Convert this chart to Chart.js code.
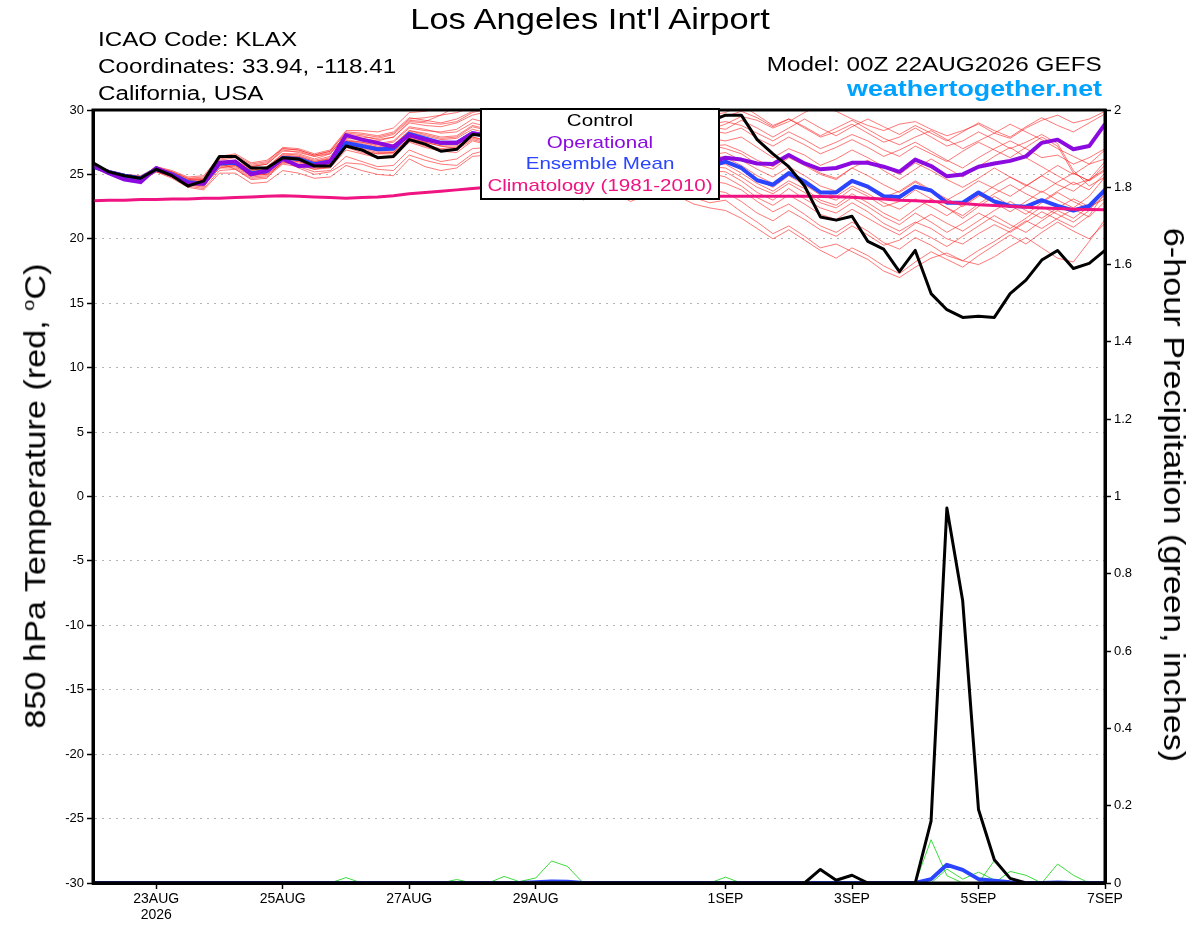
<!DOCTYPE html>
<html>
<head>
<meta charset="utf-8">
<title>Los Angeles Int'l Airport - GEFS 850 hPa Temperature</title>
<script src="https://cdn.jsdelivr.net/npm/chart.js@4.4.1/dist/chart.umd.min.js"></script>
<style>
  body { margin: 0; background: #fff; font-family: "Liberation Sans", Arial, sans-serif; color: #000; }
  #wrap { position: relative; width: 1200px; height: 927px; overflow: hidden; }
  #chart { position: absolute; left: 0; top: 0; }
  .txt { position: absolute; white-space: nowrap; }
  #title { left: 590px; top: 2.2px; font-size: 29px; line-height: 34px; transform: translateX(-50%) scaleX(1.19); }
  #info { left: 98px; top: 25.6px; font-size: 20px; line-height: 27px; transform: scaleX(1.21); transform-origin: left top; }
  #model { right: 98px; top: 50.6px; font-size: 20px; line-height: 27px; transform: scaleX(1.215); transform-origin: right top; }
  #site { right: 98px; top: 75.4px; font-size: 22px; line-height: 27px; font-weight: bold; color: #00a2ff;
          transform: scaleX(1.22); transform-origin: right top; }
  #legend { position: absolute; left: 480px; top: 108px; width: 240px; height: 92px; box-sizing: border-box;
            border: 2px solid #000; background: #fff; text-align: center; font-size: 17px; line-height: 21.6px;
            padding-top: 0; z-index: 2; }
  #legend div { transform: scaleX(1.21); white-space: nowrap; }
  .axt { position: absolute; white-space: nowrap; font-size: 29px; line-height: 34px; }
  #ytitle { left: 31.8px; top: 496px; transform: translate(-50%, -50%) rotate(-90deg) scaleX(1.18); }
  #y2title { left: 1174px; top: 495px; transform: translate(-50%, -50%) rotate(90deg) scaleX(1.18); }
</style>
</head>
<body>
<div id="wrap">
  <canvas id="chart" width="1200" height="927"></canvas>
  <div class="txt" id="title">Los Angeles Int'l Airport</div>
  <div class="txt" id="info">ICAO Code: KLAX<br>Coordinates: 33.94, -118.41<br>California, USA</div>
  <div class="txt" id="model">Model: 00Z 22AUG2026 GEFS</div>
  <div class="txt" id="site">weathertogether.net</div>
  <div id="legend">
    <div style="color:#000">Control</div>
    <div style="color:#8a0ae0">Operational</div>
    <div style="color:#2a44ff">Ensemble Mean</div>
    <div style="color:#f01482">Climatology (1981-2010)</div>
  </div>
  <div class="axt" id="ytitle">850 hPa Temperature (red, <sup style="font-size:17px">o</sup>C)</div>
  <div class="axt" id="y2title">6-hour Precipitation (green, inches)</div>
</div>
<script>
// forecast hours from 00Z 22AUG2026, every 6 h
const hours = [0,6,12,18,24,30,36,42,48,54,60,66,72,78,84,90,96,102,108,114,
  120,126,132,138,144,150,156,162,168,174,180,186,192,198,204,210,216,222,228,234,
  240,246,252,258,264,270,276,282,288,294,300,306,312,318,324,330,336,342,348,354,
  360,366,372,378,384];

const tickHours = [24, 72, 120, 168, 240, 288, 336, 384];
const tickLabels = [['23AUG', '2026'], '25AUG', '27AUG', '29AUG', '1SEP', '3SEP', '5SEP', '7SEP'];

// 850 hPa temperature, deg C
const controlTemp = [25.9,25.2,24.9,24.7,25.4,24.9,24.1,24.5,26.4,26.4,
  25.5,25.5,26.3,26.2,25.65,25.65,27.2,26.9,26.3,26.4,
  27.7,27.35,26.8,26.95,28.1,28.0,27.6,28.1,28.5,28.2,
  27.9,28.3,28.7,28.4,28.1,28.6,29.0,28.7,28.9,29.1,
  29.6,29.6,27.7,26.6,25.6,24.1,21.7,21.45,21.75,19.8,
  19.2,17.45,19.1,15.75,14.5,13.9,14.0,13.9,15.75,16.8,
  18.35,19.1,17.7,18.1,19.1];

const operTemp = [25.7,25.1,24.6,24.4,25.5,24.95,24.3,24.3,25.9,26.0,
  25.0,25.3,26.2,25.65,25.7,26.0,28.05,27.7,27.45,27.15,
  28.05,27.7,27.45,27.45,28.2,28.0,27.7,27.9,28.2,27.8,
  27.4,27.6,27.8,27.4,27.0,27.2,27.0,26.7,26.6,25.9,
  26.3,26.15,25.85,25.8,26.5,25.85,25.4,25.5,25.9,25.9,
  25.6,25.2,26.15,25.65,24.85,25.0,25.6,25.85,26.05,26.4,
  27.45,27.7,26.95,27.2,28.9];

const meanTemp = [25.6,25.2,24.9,24.7,25.4,25.0,24.4,24.3,25.85,25.9,
  25.1,25.25,26.3,26.2,25.8,26.0,27.45,27.2,26.95,27.0,
  28.15,27.8,27.45,27.45,28.2,28.0,27.6,27.7,28.2,27.8,
  27.4,27.5,27.6,27.3,26.9,27.0,26.8,26.4,26.3,25.6,
  26.0,25.5,24.55,24.2,25.1,24.45,23.6,23.6,24.5,24.05,
  23.3,23.25,24.05,23.75,22.8,22.8,23.6,22.9,22.55,22.5,
  23.0,22.55,22.2,22.55,23.8];

const climTemp = [22.95,23.0,23.0,23.05,23.05,23.1,23.1,23.15,23.15,23.2,
  23.25,23.3,23.35,23.3,23.25,23.2,23.15,23.2,23.25,23.35,
  23.5,23.6,23.7,23.8,23.9,24.0,24.0,23.95,23.9,23.8,
  23.7,23.6,23.5,23.45,23.4,23.35,23.3,23.3,23.3,23.3,
  23.3,23.3,23.3,23.3,23.3,23.3,23.28,23.26,23.22,23.15,
  23.1,23.0,22.95,22.9,22.85,22.75,22.65,22.58,22.52,22.46,
  22.4,22.35,22.3,22.27,22.25];

// ensemble members (red)
const m01 = [25.7,25.3,25.0,24.8,25.6,25.3,24.8,24.9,26.4,26.6,25.9,26.1,27.0,26.9,26.5,26.8,28.3,28.2,28.0,28.3,29.4,29.2,29.0,29.3,29.9,
  30.3,30.8,30.2,29.7,30.4,30.9,30.3,29.8,29.4,29.9,30.2,29.6,29.1,28.7,28.5,
  28.9,29.5,29.2,28.6,29.1,29.8,30.4,29.9,29.3,28.8,28.4,28.9,29.1,28.5,28.0,28.4,28.9,28.2,27.8,28.6,29.2,29.6,29.0,29.3,29.9];
const m02 = [25.5,25.1,24.8,24.5,25.2,24.8,24.1,23.9,25.3,25.4,24.6,24.7,26.1,25.5,25.0,25.2,25.9,25.8,25.4,25.3,26.5,26.1,25.8,25.7,26.6,
  26.9,26.4,26.8,27.1,26.5,26.0,25.3,25.7,25.9,25.2,24.6,24.1,23.7,23.2,22.8,
  23.0,22.1,21.3,20.4,21.0,20.2,19.3,19.6,19.0,18.4,17.5,17.0,17.8,18.5,18.9,18.3,18.0,18.6,19.4,20.1,19.3,18.5,18.2,19.8,21.5];
const m03 = [25.6,25.3,25.0,24.9,25.5,25.2,24.6,24.6,26.2,26.4,25.6,25.8,26.9,26.7,26.4,26.7,28.0,27.9,27.8,28.1,29.2,29.1,29.6,30.3,30.6,
  30.9,30.4,29.9,30.5,30.1,29.5,29.9,30.3,29.8,29.2,29.6,30.1,29.7,29.4,29.6,
  29.8,30.4,29.6,28.8,29.3,28.7,28.0,28.6,29.2,28.5,27.8,27.3,27.9,28.4,27.7,27.0,27.6,28.2,28.9,28.3,27.7,27.0,26.4,25.8,26.2];
const m04 = [25.5,25.0,24.7,24.6,25.3,24.9,24.2,24.2,25.6,25.6,24.9,25.0,25.9,25.8,25.4,25.5,26.9,26.6,26.3,26.3,27.5,27.1,26.8,26.7,27.6,
  27.3,26.8,27.2,27.6,27.0,26.4,25.9,26.3,26.7,26.1,25.5,25.8,26.1,25.6,25.3,
  25.2,24.5,23.6,23.0,23.9,23.1,22.4,22.0,22.8,22.1,21.2,20.6,21.3,20.8,20.0,19.6,20.4,21.1,20.5,21.3,22.1,21.5,20.9,21.8,23.6];
const m05 = [25.7,25.2,25.0,24.8,25.5,25.1,24.5,24.5,26.0,26.1,25.3,25.6,26.6,26.5,26.1,26.4,27.8,27.7,27.4,27.6,28.7,28.5,28.2,28.3,29.0,
  28.7,28.3,28.8,29.2,28.6,28.0,28.4,28.7,28.1,27.5,27.9,28.2,27.6,27.1,27.3,
  27.0,26.6,25.8,25.4,26.3,25.7,25.0,24.6,25.5,26.1,25.3,24.6,25.4,26.2,25.5,24.8,25.6,26.4,27.1,26.3,25.6,24.9,24.2,24.6,25.4];
const m06 = [25.6,25.2,24.8,24.6,25.3,24.9,24.3,24.1,25.5,25.7,25.0,25.0,26.0,25.7,25.4,25.6,27.6,26.8,26.6,26.7,27.8,27.5,27.2,27.0,27.8,
  27.5,27.0,27.4,27.7,27.1,26.5,26.0,26.4,26.8,26.2,25.6,25.1,25.5,24.9,24.5,
  24.3,23.8,22.9,22.1,22.7,21.9,21.0,20.5,21.3,20.6,19.7,19.2,20.1,19.5,18.7,18.3,19.1,19.8,20.6,21.4,20.8,21.6,22.3,21.7,22.9];
const m07 = [25.6,25.3,24.9,24.7,25.4,25.1,24.5,24.4,25.9,26.0,25.2,25.4,26.4,26.4,26.0,26.3,27.7,27.5,27.3,27.5,28.6,28.4,28.3,28.5,29.3,
  29.0,28.6,29.1,29.4,28.8,28.2,28.6,28.9,28.3,27.8,28.2,28.5,28.0,27.5,27.8,
  27.6,27.9,27.1,26.3,27.0,26.5,25.7,26.2,26.9,26.3,25.6,25.0,25.9,25.3,24.6,24.0,24.7,25.5,24.8,24.1,24.9,25.7,25.0,25.8,26.9];
const m08 = [25.5,25.1,24.8,24.7,25.3,24.9,24.3,24.2,25.7,25.8,25.0,25.1,26.1,26.0,25.6,25.7,27.2,26.9,26.6,26.6,27.7,27.3,27.0,27.1,27.9,
  27.6,27.1,27.5,27.8,27.2,26.6,26.2,26.6,27.0,26.4,25.9,26.3,26.6,26.1,25.7,
  25.8,25.1,24.3,23.7,24.5,23.9,23.0,22.6,23.5,22.8,22.0,21.4,22.3,23.1,22.4,21.6,22.5,23.3,22.6,21.9,22.8,23.6,22.9,22.3,23.4];
const m09 = [25.7,25.3,25.0,24.8,25.5,25.1,24.6,24.7,26.3,26.5,25.8,26.0,27.1,27.0,26.6,26.9,28.4,28.4,28.3,28.6,29.8,29.9,30.2,30.4,30.8,
  31.1,30.7,31.2,30.8,30.3,30.7,31.0,30.5,30.0,30.4,30.7,30.2,29.8,30.1,29.7,
  29.5,29.9,29.4,28.7,29.3,28.6,27.9,28.3,28.9,28.2,27.5,27.9,28.6,27.9,27.2,27.6,28.3,27.7,27.0,27.5,28.1,27.4,25.3,24.1,24.8];
const m10 = [25.6,25.1,24.8,24.6,25.2,24.7,24.0,23.8,25.1,25.1,24.3,24.4,25.3,25.1,24.7,24.8,25.7,25.3,25.0,24.9,26.2,25.6,25.3,25.5,26.4,
  26.5,26.0,26.3,26.6,25.9,25.2,23.0,24.0,23.6,22.9,23.4,23.8,23.3,22.7,22.4,
  22.2,21.6,20.8,20.0,20.7,19.9,19.1,18.5,19.3,18.7,17.9,17.3,18.2,19.0,18.4,17.8,18.7,19.5,20.3,19.6,20.5,21.3,20.6,20.0,21.2];
const m11 = [25.6,25.2,24.9,24.7,25.4,25.0,24.4,24.3,25.8,25.9,25.1,25.3,26.3,26.3,25.9,26.1,27.5,27.3,27.1,27.2,28.3,28.0,27.7,27.8,28.5,
  28.2,27.8,28.2,28.6,28.0,27.4,27.8,28.1,27.5,26.9,27.3,27.6,27.1,26.6,26.5,
  26.3,25.7,24.9,24.3,25.1,24.4,23.7,23.3,24.1,23.5,22.8,22.3,23.1,22.5,21.8,22.6,23.4,22.8,22.1,22.9,23.7,23.0,22.4,23.3,24.8];
const m12 = [25.5,25.2,24.9,24.8,25.4,25.0,24.5,24.4,25.9,26.1,25.4,25.5,26.6,26.6,26.2,26.6,28.0,27.8,27.6,27.9,29.0,28.8,28.7,29.0,29.6,
  29.9,29.4,29.8,30.2,29.6,29.0,29.4,29.7,29.1,28.6,29.0,29.3,28.8,28.3,28.4,
  28.2,28.6,27.8,27.2,27.9,27.3,26.6,27.1,27.7,27.1,26.4,26.9,27.5,26.8,26.1,25.5,26.3,27.0,27.6,27.0,26.3,26.5,25.8,26.3,27.0];
const m13 = [25.6,25.2,24.8,24.6,25.3,24.8,24.2,24.0,25.9,25.4,24.7,24.8,25.8,25.6,25.2,25.3,26.4,26.0,25.6,25.7,26.9,26.4,26.0,26.2,27.0,
  27.1,26.6,27.0,27.3,26.7,26.1,25.6,26.0,26.3,25.7,25.1,24.6,24.9,24.3,23.8,
  23.6,22.9,22.0,21.4,22.2,21.5,20.7,20.2,21.0,20.3,19.5,19.9,20.7,20.1,19.4,20.2,21.0,21.8,21.1,20.5,21.4,22.2,21.6,22.5,24.0];
const m14 = [25.7,25.3,24.9,24.8,25.5,25.2,24.7,24.6,26.1,26.3,25.6,25.8,26.8,26.8,26.4,26.6,28.1,28.0,27.7,27.9,29.1,29.0,28.9,29.1,29.8,
  30.1,29.6,30.0,30.4,29.8,29.2,29.6,29.9,29.3,28.8,29.2,29.5,29.0,28.6,28.9,
  29.1,28.8,28.2,27.6,28.3,27.7,27.0,27.5,28.1,27.6,26.9,26.4,27.2,26.6,26.0,26.8,27.5,26.9,26.3,27.1,27.9,27.2,25.1,24.5,25.3];
const m15 = [25.5,25.1,24.8,24.6,25.3,25.0,24.4,24.3,25.8,25.8,25.0,25.2,26.2,26.1,25.7,25.9,27.3,27.1,26.8,26.8,27.9,27.6,27.3,27.3,28.1,
  27.8,27.4,27.8,28.1,27.5,26.9,27.3,27.6,27.0,26.5,26.9,27.2,26.7,26.3,26.5,
  26.7,26.1,25.4,24.8,25.6,24.9,24.1,23.7,24.6,23.9,23.2,23.7,24.5,23.8,23.1,22.5,23.3,24.1,24.8,24.2,23.6,24.4,25.1,24.5,25.7];
const m16 = [25.6,25.2,24.9,24.7,25.5,25.1,24.5,24.5,26.0,26.0,25.3,25.5,26.5,26.4,26.0,26.2,27.6,27.5,27.2,27.3,28.4,28.2,27.9,28.0,28.8,
  28.5,28.1,28.5,28.9,28.3,27.7,28.1,28.4,27.8,27.3,27.7,28.0,27.5,27.0,27.2,
  27.3,26.8,26.1,25.6,26.4,25.8,25.1,24.7,25.5,24.9,24.2,23.6,24.4,23.7,23.0,23.7,24.5,23.9,23.3,24.1,24.9,24.2,23.7,24.6,26.0];
const m17 = [25.6,25.1,24.8,24.6,25.2,24.9,24.2,24.1,25.5,25.5,24.8,24.9,25.9,25.9,25.5,25.6,27.1,26.7,26.4,26.4,27.6,27.2,26.9,26.9,27.7,
  27.4,26.9,27.3,27.6,27.0,26.4,25.9,26.3,26.6,26.0,25.5,25.9,26.2,25.6,25.1,
  24.8,24.1,23.2,22.6,23.4,22.7,21.9,21.5,22.3,21.6,20.9,20.3,21.2,21.9,21.2,20.6,21.4,22.2,22.9,22.2,21.6,22.4,23.1,22.5,23.1];
const m18 = [25.7,25.3,25.0,24.8,25.6,25.2,24.7,24.8,26.3,26.4,25.7,25.9,27.0,26.9,26.5,26.8,28.2,28.1,27.9,28.2,29.3,29.4,29.6,29.8,30.2,
  30.5,30.0,30.4,30.8,30.2,29.6,30.0,30.3,29.7,29.2,29.6,29.9,29.4,28.9,28.7,
  28.5,29.2,28.6,27.9,28.6,29.3,28.6,28.0,28.7,29.3,28.7,28.1,28.8,28.2,27.6,28.3,29.0,28.4,27.9,28.7,29.4,28.8,28.3,29.0,29.7];
const m19 = [25.5,25.2,24.8,24.7,25.3,24.9,24.3,24.2,25.7,25.7,24.9,25.1,26.1,26.0,25.6,25.8,27.2,27.0,26.7,26.7,27.8,27.5,27.2,27.2,27.9,
  27.6,27.2,27.6,27.9,27.3,26.7,26.2,26.6,27.0,26.4,25.8,26.2,26.5,26.0,25.6,
  25.5,24.8,24.0,23.5,24.3,23.6,22.8,22.4,23.2,22.5,21.7,21.1,22.0,21.3,20.5,21.2,22.0,21.4,20.8,21.6,22.5,21.9,21.3,22.2,23.9];
const m20 = [25.6,25.2,24.9,24.7,25.4,25.0,24.4,24.4,25.9,26.0,25.2,25.4,26.4,26.3,25.9,26.2,27.6,27.4,27.1,27.2,28.4,28.1,27.8,27.9,28.7,
  28.4,28.0,28.4,28.8,28.2,27.6,28.0,28.3,27.7,27.1,26.7,27.0,26.6,26.2,26.1,
  26.0,25.4,24.6,24.0,24.9,24.2,23.4,23.0,23.9,23.3,22.5,22.9,23.8,23.1,22.4,21.8,22.7,23.5,24.2,23.5,22.9,23.7,24.4,23.8,25.1];

// 6-hour precipitation, inches
const controlPrecip = [0,0,0,0,0,0,0,0,0,0, 0,0,0,0,0,0,0,0,0,0, 0,0,0,0,0,0,0,0,0,0, 0,0,0,0,0,0,0,0,0,0,
  0,0,0,0,0,0,0.035,0.007,0.02,0, 0,0,0,0.16,0.97,0.73,0.19,0.06,0.012,0, 0,0,0,0,0];
const meanPrecip = [0,0,0,0,0,0,0,0,0,0, 0,0,0,0,0,0,0,0,0,0, 0,0,0,0,0,0,0,0,0.002,0.004, 0.003,0,0,0,0,0,0,0,0,0,
  0,0,0,0,0,0,0,0,0,0, 0,0,0,0.01,0.047,0.034,0.01,0.006,0.002,0, 0,0.001,0,0,0];
const p01 = [0,0,0,0,0,0,0,0,0,0, 0,0,0,0,0,0,0.014,0,0,0, 0,0,0,0,0,0,0,0,0,0, 0,0,0,0,0,0,0,0,0,0,
  0,0,0,0,0,0,0,0,0,0, 0,0,0,0.112,0.019,0,0,0,0,0, 0,0,0,0,0];
const p02 = [0,0,0,0,0,0,0,0,0,0, 0,0,0,0,0,0,0,0,0,0, 0,0,0,0.009,0,0,0.017,0.003,0,0, 0,0,0,0,0,0,0,0,0,0,
  0,0,0,0,0,0,0,0,0,0, 0,0,0,0,0,0,0,0,0,0, 0,0,0,0,0];
const p03 = [0,0,0,0,0,0,0,0,0,0, 0,0,0,0,0,0,0,0,0,0, 0,0,0,0,0,0,0,0.004,0.013,0.057, 0.043,0,0,0,0,0,0,0,0,0,
  0,0,0,0,0,0,0,0,0,0, 0,0,0,0,0,0,0,0,0,0, 0,0,0,0,0];
const p04 = [0,0,0,0,0,0,0,0,0,0, 0,0,0,0,0,0,0,0,0,0, 0,0,0,0,0,0,0,0,0,0, 0,0,0,0,0,0,0,0,0,0,
  0.015,0,0,0,0,0,0,0,0,0, 0,0,0,0,0.036,0.01,0.028,0.008,0,0, 0,0,0,0,0];
const p05 = [0,0,0,0,0,0,0,0,0,0, 0,0,0,0,0,0,0,0,0,0, 0,0,0,0,0,0,0,0,0,0, 0,0,0,0,0,0.002,0,0,0,0,
  0,0,0,0,0,0,0,0,0,0, 0,0,0,0,0,0,0,0.058,0.01,0, 0,0,0,0,0];
const p06 = [0,0,0,0,0,0,0,0,0,0, 0,0,0,0,0,0,0,0,0,0, 0,0,0,0,0,0,0,0,0,0, 0,0,0,0,0,0,0,0,0,0,
  0,0,0,0,0,0,0,0,0,0, 0,0,0,0,0,0,0,0,0.03,0.02, 0,0.049,0.02,0,0];

const memberTemps = [m01, m02, m03, m04, m05, m06, m07, m08, m09, m10,
  m11, m12, m13, m14, m15, m16, m17, m18, m19, m20];
const memberPrecips = [p01, p02, p03, p04, p05, p06];

Chart.defaults.font.family = '"Liberation Sans", Arial, sans-serif';
Chart.defaults.color = '#000';

let line = (label, data, color, width, axis) => ({
  label: label,
  data: data,
  borderColor: color,
  borderWidth: width,
  yAxisID: axis,
  pointRadius: 0,
  tension: 0,
  fill: false,
  borderJoinStyle: width > 1 ? 'round' : 'miter'
});

// first dataset ends up on top
let datasets = [
  line('Control', controlTemp, '#000000', 3, 'y'),
  line('Control precip', controlPrecip, '#000000', 3, 'y2'),
  line('Climatology (1981-2010)', climTemp, '#f01482', 3, 'y'),
  line('Operational', operTemp, '#8a0ae0', 4, 'y'),
  line('Ensemble Mean', meanTemp, '#2a44ff', 4, 'y'),
  line('Ensemble Mean precip', meanPrecip, '#2a44ff', 4, 'y2')
];
memberPrecips.forEach((p, i) => datasets.push(line('Member ' + (i + 1) + ' precip', p, '#3ddc3d', 1, 'y2')));
memberTemps.forEach((t, i) => datasets.push(line('Member ' + (i + 1), t, 'rgba(255,30,30,0.6)', 1, 'y')));

// closes the box round the plot area
const frame = {
  id: 'frame',
  afterDatasetsDraw(chart) {
    const a = chart.chartArea;
    const c = chart.ctx;
    c.save();
    c.strokeStyle = '#000';
    c.lineWidth = 3;
    c.strokeRect(a.left, a.top, a.right - a.left, a.bottom - a.top);
    c.restore();
  }
};

new Chart(document.getElementById('chart'), {
  type: 'line',
  data: { labels: hours, datasets: datasets },
  plugins: [frame],
  options: {
    responsive: false,
    animation: false,
    layout: { padding: { top: 110, left: 0, right: 0, bottom: 0 } },
    plugins: { legend: { display: false }, tooltip: { enabled: false } },
    scales: {
      x: {
        type: 'linear',
        min: 0,
        max: 384,
        afterBuildTicks: (axis) => { axis.ticks = tickHours.map(v => ({ value: v })); },
        afterFit: (axis) => { axis.height = 44; },
        ticks: {
          autoSkip: false,
          maxRotation: 0,
          padding: 2,
          font: { size: 14, lineHeight: 1.15 },
          callback: (v) => tickLabels[tickHours.indexOf(v)]
        },
        grid: { drawOnChartArea: false, tickLength: 6, tickColor: '#000', tickWidth: 1.5 },
        border: { color: '#000', width: 3 }
      },
      y: {
        position: 'left',
        min: -30,
        max: 30,
        afterFit: (axis) => { axis.width = 93; },
        ticks: { stepSize: 5, padding: 3, font: { size: 13 } },
        grid: { color: '#b4b4b4', lineWidth: 1, tickColor: '#000', tickLength: 6, tickWidth: 1.5, tickBorderDash: [] },
        border: { color: '#000', width: 3, dash: [2, 5] }
      },
      y2: {
        position: 'right',
        min: 0,
        max: 2,
        afterFit: (axis) => { axis.width = 95; },
        ticks: { stepSize: 0.2, padding: 3, font: { size: 13 }, callback: (v) => String(Math.round(v * 10) / 10) },
        grid: { drawOnChartArea: false, tickLength: 6, tickColor: '#000', tickWidth: 1.5 },
        border: { color: '#000', width: 3 }
      }
    }
  }
});
</script>
</body>
</html>
